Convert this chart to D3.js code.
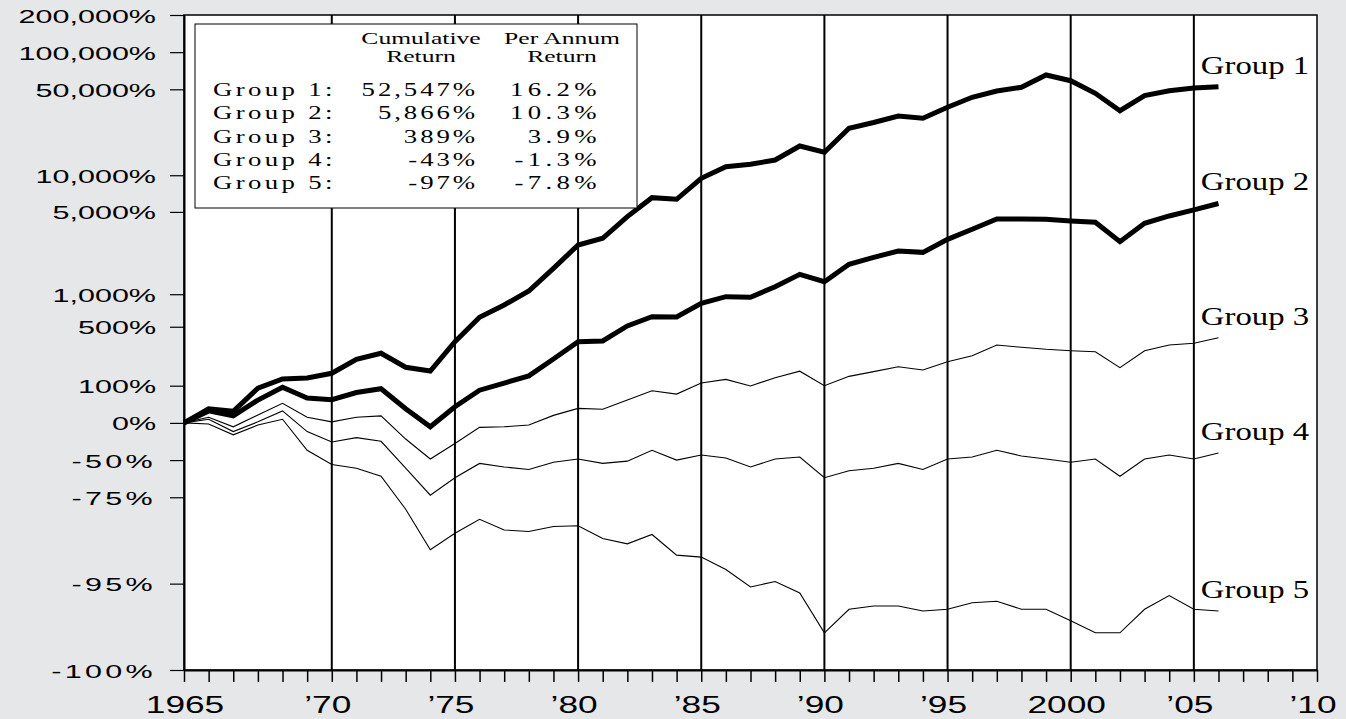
<!DOCTYPE html>
<meta charset="utf-8">
<style>
body { margin: 0; background: #e6e7e9; }
svg { display: block; }
.serif { font-family: "Liberation Serif", "Times New Roman", serif; fill: #000; }
.sans { font-family: "Liberation Sans", Arial, sans-serif; fill: #000; }
</style>
<body>
<script src="https://d3js.org/d3.v7.min.js"></script>
<script>

// year-end values, 1964 = start (0%)
const years = d3.range(1964, 2007);

// cumulative return in percent
const group1 = [0, 30, 24, 91, 127, 131, 152, 227, 266, 182, 163, 354, 616, 800, 1068, 1683, 2650, 3020, 4570, 6550, 6350,
  9440, 11750, 12290, 13320, 17320, 15400, 24130, 26890, 30370, 29110, 35750, 43080, 48440, 51900, 65300, 58700,
  46400, 33500, 44400, 48700, 51200, 52547];
const group2 = [0, 25, 14, 53, 94, 59, 54, 76, 89, 30, -7, 35, 84, 110, 140, 229, 354, 360, 509, 624, 620,
  829, 951, 939, 1166, 1494, 1289, 1822, 2089, 2360, 2300, 2960, 3590, 4370, 4370, 4340, 4210,
  4100, 2830, 4030, 4630, 5190, 5866];
const group3 = [0, 11, -7, 16, 44, 11, 2, 11, 14, -26, -49, -32, -8, -7, -4, 15, 31, 29, 53, 82, 71,
  110, 125, 99, 132, 162, 100, 138, 160, 185, 168, 213, 250, 327, 309, 294, 284,
  277, 180, 284, 327, 341, 389];
const group4 = [0, 7, -15, 2, 25, -15, -30, -24, -29, -57, -74, -64, -53, -56, -58, -52, -49, -53, -51, -40, -50,
  -45, -48, -56, -49, -47, -64, -59, -57, -53, -58, -49, -47, -40, -46, -49, -52,
  -49, -63, -49, -45, -49, -43];
const group5 = [0, -2, -20, -4, 7, -40, -54, -57, -63, -80, -90.6, -87.2, -83.4, -86.4, -86.8, -85.5, -85.3, -88.4, -89.5, -87.5, -91.5,
  -91.8, -93.5, -95.3, -94.8, -95.8, -98.0, -96.9, -96.7, -96.7, -97.0, -96.9, -96.5, -96.4, -96.9, -96.9, -97.5,
  -98.0, -98.0, -96.9, -96.0, -96.9, -97];

const groupNames = ["Group 1", "Group 2", "Group 3", "Group 4", "Group 5"];
const cumulative = ["52,547%", "5,866%", "389%", "-43%", "-97%"];
const perAnnum = ["16.2%", "10.3%", "3.9%", "-1.3%", "-7.8%"];

const yTicks = [200000, 100000, 50000, 10000, 5000, 1000, 500, 100, 0, -50, -75, -95, -99];
const yTickLabels = ["200,000%", "100,000%", "50,000%", "10,000%", "5,000%", "1,000%", "500%", "100%", "0%",
  "-50%", "-75%", "-95%", "-100%"];
const xLabelYears = [1964, 1970, 1975, 1980, 1985, 1990, 1995, 2000, 2005, 2010];
const xTickLabels = ["1965", "\u201970", "\u201975", "\u201980", "\u201985", "\u201990", "\u201995", "2000", "\u201905", "\u201910"];
const gridYears = [1970, 1975, 1980, 1985, 1990, 1995, 2000, 2005];

const series = [group1, group2, group3, group4, group5];

var margin = {top: 15, right: 29, bottom: 49, left: 184},
    width = 1346 - margin.left - margin.right,
    height = 719 - margin.top - margin.bottom;

var x = d3.scaleLinear().domain([1964, 2010]).range([0, width]);
var y = d3.scaleLog().domain([0.01, 2001]).range([height, 0]);
var yv = function(p) { return y(1 + p / 100); };

var svg = d3.select("body").append("svg")
    .attr("width", 1346)
    .attr("height", 719)
  .append("g")
    .attr("transform", "translate(" + margin.left + "," + margin.top + ")");

// stretched text helper (the original lettering is wide)
function label(g, px, py, str, cls, size, sx, anchor) {
  return g.append("text")
    .attr("class", cls)
    .attr("transform", "translate(" + px + "," + py + ") scale(" + sx + ",1)")
    .attr("text-anchor", anchor)
    .style("font-size", size + "px")
    .text(str);
}

svg.append("rect")
    .attr("width", width)
    .attr("height", height)
    .attr("fill", "#fff")
    .attr("stroke", "#000")
    .attr("stroke-width", 1.5);

svg.selectAll(".grid")
    .data(gridYears)
  .enter().append("line")
    .attr("x1", d => x(d)).attr("x2", d => x(d))
    .attr("y1", 0).attr("y2", height)
    .attr("stroke", "#000")
    .attr("stroke-width", 2);

// x axis
var xAxis = d3.axisBottom(x)
    .tickValues(d3.range(1964, 2011))
    .tickSize(12)
    .tickSizeOuter(0)
    .tickFormat("");

var gx = svg.append("g")
    .attr("transform", "translate(0," + height + ")")
    .call(xAxis);
gx.select(".domain").attr("stroke-width", 2);
gx.selectAll(".tick line").attr("stroke-width", 1.5);

xLabelYears.forEach(function(d, i) {
  label(svg, x(d) - (i == 0 ? -1 : 4), height + 43, xTickLabels[i], "sans", 24, 1.47, "middle");
});

// y axis
var yAxis = d3.axisLeft(y)
    .tickValues(yTicks.map(d => 1 + d / 100))
    .tickSize(14)
    .tickSizeOuter(0)
    .tickFormat("");

var gy = svg.append("g").call(yAxis);
gy.select(".domain").attr("stroke-width", 2);
gy.selectAll(".tick line").attr("stroke-width", 1.2);

yTicks.forEach(function(d, i) {
  var t = label(svg, -28, yv(d) + 7.5, yTickLabels[i], "sans", 18.5, 1.65, "end");
  if (d < 0) t.style("letter-spacing", "2px");
});

// lines
var line = d3.line()
    .x((d, i) => x(years[i]))
    .y(d => yv(d));

[4, 3, 2, 1, 0].forEach(function(k) {
  svg.append("path")
      .datum(series[k])
      .attr("fill", "none")
      .attr("stroke", "#000")
      .attr("stroke-width", k < 2 ? 5 : 1.1)
      .attr("d", line);
});

series.forEach(function(s, k) {
  label(svg, x(2005) + 7, yv(s[s.length - 1]) - 13, groupNames[k], "serif", 25, 1.31, "start");
});

// legend box
var lg = svg.append("g").attr("transform", "translate(" + (195 - margin.left) + "," + (24 - margin.top) + ")");

lg.append("rect")
    .attr("width", 442)
    .attr("height", 184)
    .attr("fill", "#fff")
    .attr("stroke", "#000")
    .attr("stroke-width", 1);

label(lg, 226, 20, "Cumulative", "serif", 16, 1.6, "middle");
label(lg, 226, 38, "Return", "serif", 16, 1.6, "middle");
label(lg, 367, 20, "Per Annum", "serif", 16, 1.6, "middle");
label(lg, 367, 38, "Return", "serif", 16, 1.6, "middle");

groupNames.forEach(function(g, i) {
  var yy = 72 + i * 23.3;
  label(lg, 18, yy, g + ":", "serif", 18.5, 1.45, "start").style("letter-spacing", "2.3px");
  label(lg, 283, yy, cumulative[i], "serif", 18.5, 1.45, "end").style("letter-spacing", "2px");
  label(lg, 406, yy, perAnnum[i], "serif", 18.5, 1.45, "end").style("letter-spacing", "3px");
});

</script>
</body>
